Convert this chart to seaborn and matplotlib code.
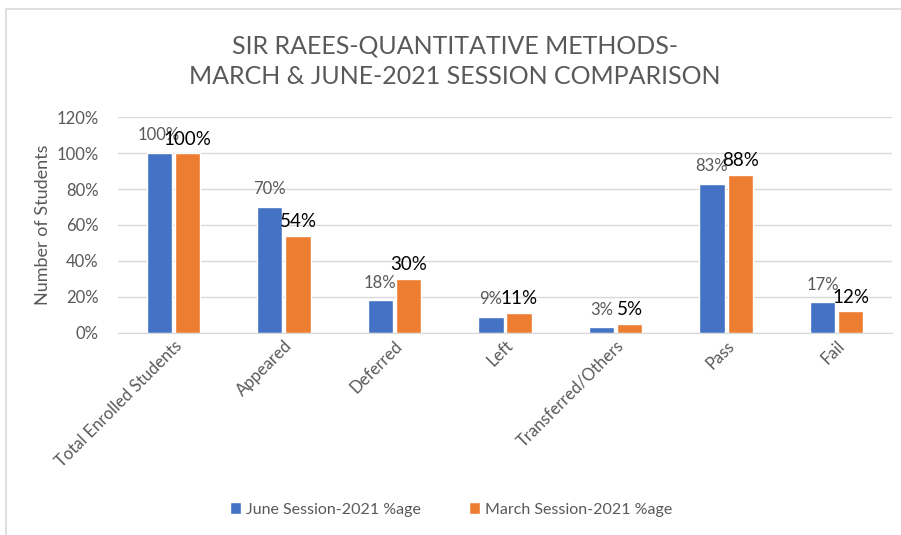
import pandas as pd
import matplotlib
matplotlib.use('Agg')
import matplotlib.pyplot as plt
import seaborn as sns
from matplotlib.patches import Rectangle
from matplotlib.ticker import PercentFormatter

categories = ['Total Enrolled Students', 'Appeared', 'Deferred', 'Left',
              'Transferred/Others', 'Pass', 'Fail']
june = [100, 70, 18, 9, 3, 83, 17]
march = [100, 54, 30, 11, 5, 88, 12]
series = ['June Session-2021 %age', 'March Session-2021 %age']
colors = ['#4472C4', '#ED7D31']

df = pd.DataFrame({
    'category': categories * 2,
    'value': june + march,
    'series': [series[0]] * len(june) + [series[1]] * len(march),
})

sns.set_style('white')
plt.rcParams['font.family'] = ['Lato', 'DejaVu Sans']

fig = plt.figure(figsize=(9.01, 5.35), dpi=100)
ax = fig.add_axes([0.131, 0.378, 0.859, 0.403])

sns.barplot(ax=ax, data=df, x='category', y='value', hue='series',
            palette=colors, width=0.51, gap=0.1, saturation=1)

ax.set_ylim(0, 120)
ax.set_yticks(range(0, 121, 20))
ax.yaxis.set_major_formatter(PercentFormatter(decimals=0))
ax.grid(True, axis='y', color='#d9d9d9', lw=1)
ax.set_axisbelow(True)
for s in ['top', 'right', 'left']:
    ax.spines[s].set_visible(False)
ax.spines['bottom'].set_color('#d9d9d9')
ax.tick_params(axis='both', length=0, labelsize=12, labelcolor='#595959')
ax.tick_params(axis='y', pad=14)
plt.setp(ax.get_xticklabels(), rotation=45, ha='right', rotation_mode='anchor')
ax.set_xlabel('')
ax.set_ylabel('Number of Students', fontsize=13, color='#595959')

# data labels: June grey and smaller, March black and larger
for cont, c, sz, pad in zip(ax.containers, ['#595959', '#000000'], [12, 13.5], [7, 4]):
    ax.bar_label(cont, labels=[f'{v:.0f}%' for v in cont.datavalues],
                 color=c, fontsize=sz, padding=pad)

ax.legend(loc='center', bbox_to_anchor=(0.43, -0.82), ncol=2, frameon=False,
          fontsize=11.5, labelcolor='#595959', handlelength=0.7, handleheight=0.7,
          columnspacing=3, handletextpad=0.3)

fig.text(0.505, 0.885, 'SIR RAEES-QUANTITATIVE METHODS-\nMARCH & JUNE-2021 SESSION COMPARISON',
         ha='center', va='center', fontsize=18, color='#595959', linespacing=1.4)

fig.patches.append(Rectangle((6 / 901, -0.05), 1.2, 1.05 - 9 / 535,
                             transform=fig.transFigure, fill=False,
                             edgecolor='#d9d9d9', lw=1.2))

fig.savefig('out.png', dpi=100)
